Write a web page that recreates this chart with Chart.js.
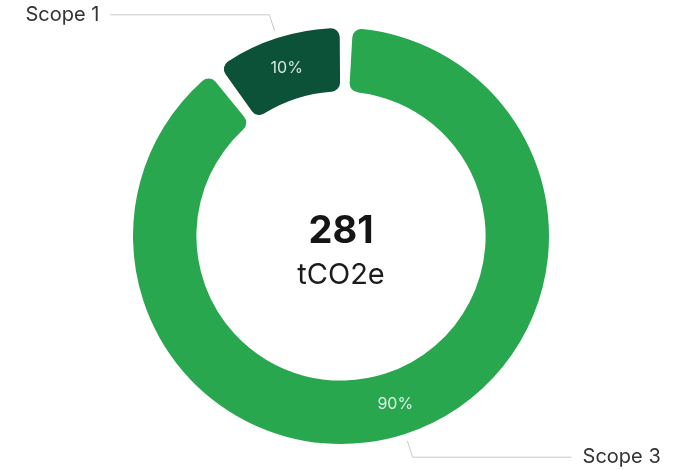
<!DOCTYPE html>
<html>
<head>
<meta charset="utf-8">
<script src="https://cdn.jsdelivr.net/npm/chart.js@4/dist/chart.umd.min.js"></script>
<style>
  html, body { margin: 0; padding: 0; background: #ffffff; }
  #wrap { width: 676px; height: 470px; position: relative; }
</style>
</head>
<body>
<div id="wrap"><canvas id="c" width="676" height="470"></canvas></div>
<script>
const categories = ["Scope 3", "Scope 1"];
const emissions = [253, 28];
const percentLabels = ["90%", "10%"];
const totalLabel = "281";
const unitLabel = "tCO2e";
const sliceColors = ["#28a74f", "#0b5238"];

const FONT = "Inter, 'Liberation Sans', sans-serif";

const overlay = {
  id: 'overlay',
  afterDatasetsDraw(chart) {
    const ctx = chart.ctx;
    const meta = chart.getDatasetMeta(0);
    ctx.save();
    meta.data.forEach((arc, i) => {
      const p = arc.getProps(['x', 'y', 'startAngle', 'endAngle', 'outerRadius'], true);
      const mid = (p.startAngle + p.endAngle) / 2;
      const cx = Math.cos(mid), cy = Math.sin(mid);
      const tp = arc.tooltipPosition(true);
      ctx.fillStyle = 'rgba(255,255,255,0.85)';
      ctx.font = "16px " + FONT;
      ctx.textAlign = 'center';
      ctx.textBaseline = 'middle';
      ctx.fillText(percentLabels[i], tp.x, tp.y);
      const r1 = p.outerRadius + 11, r2 = p.outerRadius + 28;
      const x1 = p.x + cx * r1, y1 = p.y + cy * r1;
      const x2 = p.x + cx * r2, y2 = p.y + cy * r2;
      const dir = x2 < p.x ? -1 : 1;
      const x3 = x2 + dir * 159;
      ctx.strokeStyle = '#c9c9c9';
      ctx.lineWidth = 1;
      ctx.beginPath();
      ctx.moveTo(x1, y1);
      ctx.lineTo(x2, y2);
      ctx.lineTo(x3, y2);
      ctx.stroke();
      ctx.fillStyle = '#333333';
      ctx.font = "20px " + FONT;
      ctx.textAlign = dir < 0 ? 'right' : 'left';
      ctx.fillText(categories[i], x3 + dir * 11, y2);
    });
    const cxp = (chart.chartArea.left + chart.chartArea.right) / 2;
    const cyp = (chart.chartArea.top + chart.chartArea.bottom) / 2;
    ctx.textAlign = 'center';
    ctx.textBaseline = 'alphabetic';
    ctx.fillStyle = '#151515';
    ctx.font = "bold 38px " + FONT;
    ctx.fillText(totalLabel, cxp, cyp + 7);
    ctx.font = "29px " + FONT;
    ctx.fillStyle = '#1c1c1c';
    ctx.fillText(unitLabel, cxp, cyp + 48);
    ctx.restore();
  }
};

new Chart(document.getElementById('c'), {
  type: 'doughnut',
  data: {
    labels: categories,
    datasets: [{
      data: emissions,
      backgroundColor: sliceColors,
      borderWidth: 0,
      borderRadius: 9,
      spacing: 7
    }]
  },
  options: {
    responsive: false,
    animation: false,
    cutout: '69%',
    layout: { padding: { top: 28, bottom: 26, left: 6, right: 0 } },
    plugins: { legend: { display: false }, tooltip: { enabled: false } }
  },
  plugins: [overlay]
});
</script>
</body>
</html>
